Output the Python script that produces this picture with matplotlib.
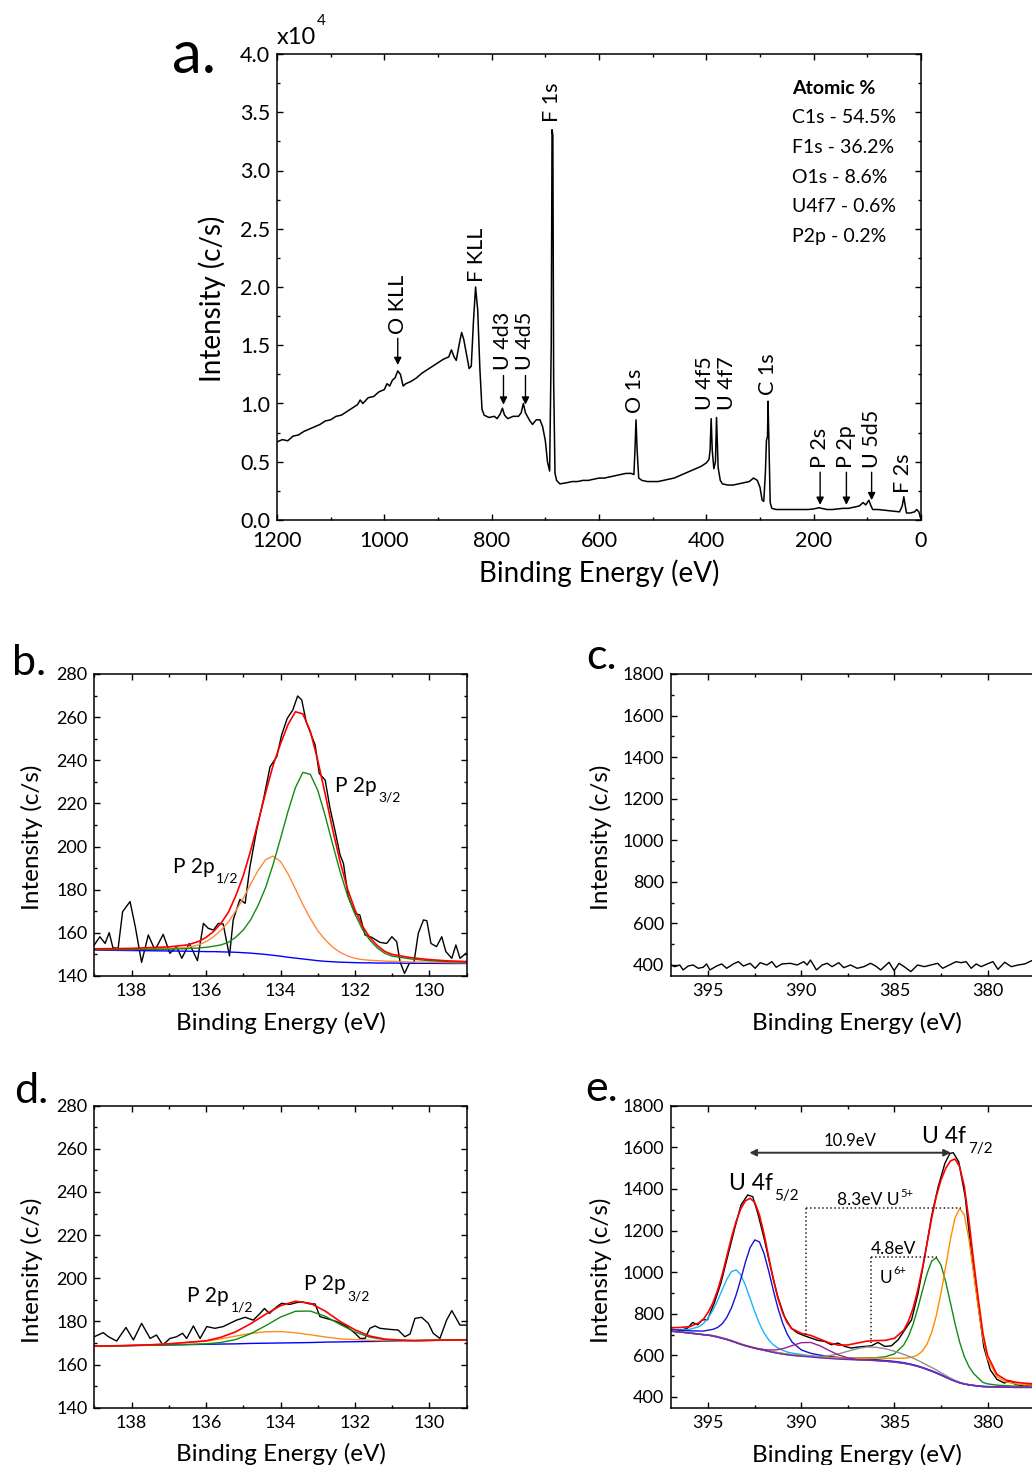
import matplotlib
matplotlib.use('Agg')
import matplotlib.pyplot as plt
from matplotlib.ticker import MultipleLocator, FormatStrFormatter

plt.rcParams['font.family'] = ['Lato', 'DejaVu Sans']
plt.rcParams['axes.linewidth'] = 1.1

# ---------------- data ----------------
# a. survey spectrum (binding energy eV, intensity x10^4 c/s)
survey_E = [1200, 1190, 1180, 1170, 1160, 1150, 1140, 1130, 1120, 1110, 1100, 1090, 1080, 1070,
            1060, 1050, 1045, 1040, 1030, 1020, 1010, 1000, 995, 990, 985, 980, 975, 970, 965,
            960, 950, 940, 930, 920, 910, 900, 890, 880, 875, 870, 866, 860, 856, 852, 848, 842,
            838, 834, 830, 826, 822, 818, 814, 805, 795, 790, 784, 780, 776, 770, 760, 750, 745,
            741, 737, 730, 724, 717, 710, 705, 700, 696, 692, 689, 687.5, 686, 684.5, 682, 679, 673,
            660, 650, 640, 630, 620, 610, 600, 590, 580, 570, 560, 550, 540, 535, 533, 531, 529,
            526, 520, 510, 500, 490, 480, 470, 460, 450, 440, 430, 420, 410, 400, 395, 393, 391,
            389, 386, 383, 381, 378, 374, 370, 360, 350, 340, 330, 320, 312, 305, 300, 296, 293,
            290, 288, 286, 285, 283, 281, 278, 270, 260, 250, 240, 230, 220, 210, 200, 190, 185,
            175, 165, 155, 145, 135, 125, 115, 108, 103, 97, 94, 90, 80, 70, 60, 50, 40, 35, 32,
            30, 27, 20, 12, 8, 4, 1, 0]
survey_I = [0.67, 0.69, 0.68, 0.72, 0.73, 0.76, 0.78, 0.80, 0.82, 0.85, 0.86, 0.89, 0.90, 0.93,
            0.96, 0.99, 1.03, 1.00, 1.05, 1.06, 1.10, 1.12, 1.17, 1.15, 1.20, 1.22, 1.28, 1.25, 1.15,
            1.17, 1.19, 1.22, 1.26, 1.29, 1.32, 1.35, 1.38, 1.40, 1.46, 1.40, 1.37, 1.52, 1.61, 1.55, 1.45, 1.30,
            1.32, 1.70, 2.00, 1.80, 1.30, 0.95, 0.90, 0.88, 0.89, 0.87, 0.91, 0.96, 0.90, 0.87, 0.89, 0.89, 0.92,
            1.00, 0.92, 0.86, 0.82, 0.86, 0.86, 0.80, 0.68, 0.50, 0.42, 1.50, 3.35, 3.30, 1.20, 0.40, 0.34, 0.31,
            0.32, 0.33, 0.33, 0.34, 0.34, 0.35, 0.36, 0.36, 0.37, 0.38, 0.39, 0.40, 0.40, 0.39, 0.60, 0.86, 0.60,
            0.36, 0.34, 0.33, 0.33, 0.33, 0.34, 0.35, 0.36, 0.38, 0.40, 0.42, 0.44, 0.46, 0.49, 0.52, 0.60, 0.87,
            0.60, 0.44, 0.50, 0.88, 0.45, 0.34, 0.31, 0.30, 0.30, 0.31, 0.32, 0.33, 0.36, 0.34, 0.28, 0.17, 0.16,
            0.40, 0.68, 0.72, 1.02, 0.60, 0.15, 0.10, 0.09, 0.09, 0.09, 0.09, 0.09, 0.09, 0.09, 0.095, 0.105, 0.10,
            0.09, 0.09, 0.095, 0.10, 0.10, 0.11, 0.12, 0.15, 0.13, 0.17, 0.13, 0.09, 0.09, 0.085, 0.08, 0.075, 0.07, 0.12, 0.20,
            0.14, 0.06, 0.06, 0.07, 0.09, 0.07, 0.02, 0.01]

peak_names = ['O KLL', 'F KLL', 'F 1s', 'U 4d3', 'U 4d5', 'O 1s', 'U 4f5', 'U 4f7', 'C 1s',
              'P 2s', 'P 2p', 'U 5d5', 'F 2s']
peak_text_E = [975, 827, 687, 778, 737, 532, 402, 361, 285, 188, 139, 92, 33]
peak_text_I = [1.60, 2.04, 3.42, 1.29, 1.29, 0.92, 0.94, 0.94, 1.07, 0.45, 0.45, 0.45, 0.23]
arrow_E = [975, 778, 737, 188, 139, 92]
arrow_from = [1.56, 1.24, 1.24, 0.41, 0.41, 0.41]
arrow_to = [1.33, 0.99, 0.99, 0.13, 0.13, 0.17]
atomic_lines = ['C1s - 54.5%', 'F1s - 36.2%', 'O1s - 8.6%', 'U4f7 - 0.6%', 'P2p - 0.2%']

# b. P 2p before
b_E_raw = [139.0, 138.85, 138.71, 138.6, 138.5, 138.36, 138.24, 138.04, 137.9, 137.73, 137.55, 137.37,
           137.15, 136.97, 136.79, 136.65, 136.45, 136.23, 136.07, 135.94, 135.8, 135.67, 135.54, 135.37,
           135.27, 135.09, 134.95, 134.82, 134.64, 134.46, 134.28, 134.1, 133.97, 133.82, 133.67, 133.54,
           133.43, 133.31, 133.19, 133.07, 132.96, 132.8, 132.67, 132.54, 132.4, 132.31, 132.18, 132.0,
           131.87, 131.73, 131.55, 131.33, 131.15, 131.01, 130.88, 130.79, 130.67, 130.54, 130.42, 130.3,
           130.16, 130.07, 129.96, 129.81, 129.67, 129.56, 129.4, 129.29, 129.18, 129.02]
b_I_raw = [154.4, 158.2, 155.1, 160.1, 153.1, 152.8, 169.8, 174.5, 162.9, 146.3, 159.0, 152.0, 159.3,
           150.5, 153.6, 148.2, 155.1, 147.1, 164.4, 162.1, 161.3, 164.4, 164.1, 149.3, 166.0, 175.5,
           173.7, 190.7, 207.7, 221.6, 237.0, 241.7, 251.7, 259.4, 263.3, 269.8, 268.0, 257.9, 252.5,
           247.1, 233.9, 230.8, 217.7, 207.7, 196.1, 192.2, 176.8, 169.0, 168.3, 159.0, 157.9, 155.6,
           155.1, 158.2, 155.9, 146.6, 141.2, 145.9, 145.9, 159.8, 166.0, 165.6, 155.1, 153.6, 158.2,
           151.3, 148.2, 154.4, 148.2, 150.5]
b_E_fit = [139, 138, 137, 136.5, 136.2, 136.0, 135.8, 135.6, 135.4, 135.2, 135.0, 134.8, 134.6, 134.4,
           134.2, 134.0, 133.8, 133.6, 133.4, 133.2, 133.0, 132.8, 132.6, 132.4, 132.2, 132.0, 131.8,
           131.6, 131.4, 131.2, 131.0, 130.5, 130.0, 129.5, 129.0]
b_bg = [152.0, 151.8, 151.6, 151.5, 151.4, 151.3, 151.3, 151.2, 151.1, 151.0, 150.8, 150.6, 150.3, 150.0,
        149.6, 149.2, 148.7, 148.3, 147.9, 147.5, 147.1, 146.8, 146.6, 146.4, 146.3, 146.2, 146.1, 146.1,
        146.0, 146.0, 146.0, 145.9, 145.9, 145.8, 145.8]
b_p12 = [152.3, 152.3, 152.7, 153.2, 154.4, 155.9, 158.1, 161.2, 165.0, 170.2, 176.0, 182.7, 189.0, 193.9,
         195.6, 193.1, 187.4, 180.4, 173.1, 166.7, 161.0, 156.8, 153.4, 151.0, 149.3, 148.2, 147.6, 147.3,
         147.1, 146.9, 146.8, 146.5, 146.4, 146.2, 146.1]
b_p32 = [152.3, 152.3, 152.4, 152.7, 153.0, 153.3, 153.8, 154.4, 155.6, 158.0, 161.3, 166.1, 172.8, 181.0,
         191.6, 203.7, 216.2, 227.3, 234.4, 233.5, 226.1, 214.3, 201.1, 188.4, 177.3, 168.7, 161.6, 156.6,
         153.0, 150.5, 149.2, 147.9, 147.1, 146.6, 146.4]
b_env = [152.6, 152.8, 153.5, 154.4, 156.0, 157.9, 160.6, 164.4, 169.5, 177.2, 186.5, 198.2, 211.5, 224.9,
         237.6, 247.6, 256.5, 262.5, 261.5, 253.5, 240.0, 224.3, 207.9, 193.0, 180.3, 170.7, 163.1, 157.8,
         154.1, 151.4, 150.0, 148.5, 147.6, 147.0, 146.7]

# c. U 4f before
c_E = [397.0, 396.8, 396.53, 396.35, 396.08, 395.81, 395.54, 395.27, 395.09, 394.91, 394.55, 394.28,
       394.01, 393.65, 393.38, 393.11, 392.75, 392.48, 392.21, 391.85, 391.58, 391.35, 391.04, 390.59,
       390.23, 389.87, 389.69, 389.51, 389.19, 388.88, 388.61, 388.35, 387.99, 387.72, 387.36, 387.0,
       386.64, 386.28, 386.01, 385.74, 385.29, 385.02, 384.75, 384.48, 384.12, 383.76, 383.4, 383.04,
       382.68, 382.41, 382.05, 381.69, 381.42, 381.15, 380.88, 380.61, 380.34, 380.02, 379.71, 379.44,
       379.08, 378.72, 378.36, 378.0, 377.55, 377.2]
c_I = [400, 392, 400, 376, 395, 400, 384, 389, 405, 376, 395, 405, 384, 405, 416, 395, 408, 384, 411, 400,
       416, 389, 405, 408, 400, 416, 400, 424, 376, 400, 408, 392, 411, 387, 400, 384, 392, 408, 395, 376,
       413, 373, 408, 392, 368, 400, 392, 400, 408, 384, 400, 416, 411, 416, 384, 405, 392, 405, 416, 379,
       413, 392, 400, 405, 424, 430]

# d. P 2p after
d_E_raw = [139.0, 138.76, 138.62, 138.4, 138.15, 137.95, 137.73, 137.5, 137.33, 137.16, 136.97, 136.79,
           136.63, 136.52, 136.34, 136.16, 135.98, 135.76, 135.54, 135.36, 135.18, 134.95, 134.73, 134.55,
           134.43, 134.3, 134.1, 133.97, 133.75, 133.57, 133.43, 133.21, 133.07, 132.94, 132.67, 132.49,
           132.22, 132.0, 131.86, 131.73, 131.6, 131.46, 131.33, 131.06, 130.84, 130.66, 130.52, 130.39,
           130.21, 130.03, 129.9, 129.72, 129.54, 129.4, 129.18, 129.02]
d_I_raw = [172.9, 174.8, 172.9, 170.9, 177.2, 171.4, 179.1, 172.1, 173.7, 169.1, 172.1, 172.9, 174.5,
           172.1, 177.9, 172.1, 177.6, 176.8, 177.6, 179.1, 180.6, 181.9, 180.6, 183.7, 186.0, 183.7,
           186.8, 188.4, 187.9, 188.7, 189.1, 188.1, 188.1, 182.2, 180.9, 179.9, 177.6, 174.5, 172.1,
           172.1, 176.8, 177.9, 176.8, 176.3, 176.0, 172.9, 174.2, 181.4, 181.9, 179.1, 174.5, 172.1,
           180.6, 185.0, 178.3, 178.3]
d_E_fit = [139, 138.5, 138, 137.5, 137, 136.5, 136, 135.6, 135.2, 134.8, 134.4, 134.0, 133.6, 133.2,
           132.8, 132.4, 132.0, 131.6, 131.2, 130.8, 130.4, 130, 129.5, 129]
d_bg = [168.5, 168.65, 168.8, 168.95, 169.1, 169.25, 169.4, 169.5, 169.6, 169.8, 169.9, 170.0, 170.1,
        170.2, 170.4, 170.5, 170.6, 170.7, 170.8, 171.0, 171.1, 171.2, 171.35, 171.5]
d_p12 = [168.5, 168.65, 168.9, 169.15, 169.6, 170.25, 170.8, 171.9, 173.2, 174.45, 175.2, 175.3, 174.75,
         173.8, 172.8, 171.9, 171.6, 171.2, 171.05, 171.1, 171.1, 171.2, 171.35, 171.5]
d_p32 = [168.5, 168.65, 168.8, 168.95, 169.1, 169.3, 169.6, 170.25, 171.6, 174.3, 178.0, 182.0, 184.7,
         184.8, 182.4, 178.6, 175.1, 172.7, 171.55, 171.25, 171.1, 171.2, 171.35, 171.5]
d_env = [168.5, 168.65, 168.9, 169.15, 169.6, 170.3, 171.0, 172.65, 175.2, 178.95, 183.3, 187.3, 189.35,
         188.4, 184.8, 180.0, 176.1, 173.2, 171.8, 171.35, 171.1, 171.2, 171.35, 171.5]

# e. U 4f after
e_E_raw = [397.01, 396.47, 396.11, 395.84, 395.57, 395.31, 395.04, 394.68, 394.32, 393.96, 393.6, 393.24,
           392.88, 392.61, 392.34, 391.98, 391.62, 391.27, 390.91, 390.55, 390.19, 389.83, 389.47, 389.11,
           388.75, 388.39, 388.03, 387.67, 387.32, 386.96, 386.6, 386.24, 385.88, 385.52, 385.16, 384.8,
           384.44, 384.08, 383.73, 383.37, 383.01, 382.65, 382.29, 382.02, 381.84, 381.55, 381.2, 380.85,
           380.5, 380.2, 379.85, 379.5, 379.1, 378.8, 378.5, 378.0, 377.7, 377.5, 377.2]
e_I_raw = [726, 720, 731, 758, 747, 771, 771, 851, 947, 1075, 1203, 1323, 1371, 1363, 1283, 1155, 1011,
           883, 787, 731, 707, 694, 683, 672, 667, 651, 659, 643, 635, 640, 643, 646, 662, 643, 646, 675,
           723, 771, 899, 1075, 1267, 1411, 1523, 1571, 1574, 1531, 1363, 1075, 840, 640, 530, 485, 467,
           478, 460, 452, 459, 451, 455]
e_E_fit = [397, 396.5, 396, 395.5, 395.25, 395, 394.75, 394.5, 394.25, 394,
           393.75, 393.5, 393.25, 393, 392.75, 392.5, 392.25, 392, 391.75, 391.5,
           391.25, 391, 390.75, 390.5, 390, 389.5, 389, 388.5, 388, 387.5,
           387, 386.5, 386, 385.5, 385, 384.5, 384.25, 384, 383.75, 383.5,
           383.25, 383, 382.75, 382.5, 382.25, 382, 381.75, 381.5, 381.25, 381,
           380.75, 380.5, 380.25, 380, 379.5, 379, 378.5, 378, 377.5, 377]
e_bg = [716, 712, 707, 702, 699, 697, 693, 688, 682, 676,
        669, 661, 653, 646, 640, 634, 629, 624, 619, 614,
        610, 606, 603, 600, 596, 592, 588, 585, 582, 580,
        578, 577, 575, 572, 568, 562, 558, 553, 547, 540,
        532, 524, 515, 505, 495, 485, 476, 468, 462, 458,
        455, 452, 450, 449, 448, 447, 446, 446, 446, 446]
e_u6_52 = [724, 723, 725, 738, 754, 781, 817, 863, 915, 966,
           1003, 1011, 987, 936, 873, 809, 753, 708, 674, 650,
           635, 624, 616, 611, 604, 598, 593, 589, 585, 583,
           580, 579, 577, 574, 569, 563, 559, 554, 548, 541,
           533, 525, 516, 506, 496, 486, 477, 469, 463, 459,
           456, 453, 451, 450, 449, 448, 447, 447, 447, 447]
e_u5_52 = [723, 721, 718, 717, 717, 721, 725, 734, 752, 783,
           829, 891, 967, 1049, 1118, 1155, 1145, 1089, 1004, 911,
           825, 754, 701, 664, 626, 610, 601, 595, 590, 586,
           583, 581, 579, 575, 571, 565, 560, 555, 549, 542,
           534, 526, 517, 507, 497, 487, 477, 469, 463, 459,
           456, 453, 451, 450, 449, 448, 447, 447, 447, 447]
e_sat52 = [716, 712, 707, 702, 699, 697, 693, 688, 682, 676,
           669, 661, 653, 646, 640, 635, 631, 628, 626, 626,
           628, 632, 639, 647, 661, 662, 646, 623, 602, 588,
           580, 578, 575, 572, 568, 562, 558, 553, 547, 540,
           532, 524, 515, 505, 495, 485, 476, 468, 462, 458,
           455, 452, 450, 449, 448, 447, 446, 446, 446, 446]
e_sat72 = [716, 712, 707, 702, 699, 697, 693, 688, 682, 676,
           669, 661, 653, 646, 640, 634, 629, 624, 619, 614,
           610, 606, 603, 600, 597, 595, 594, 599, 607, 620,
           632, 640, 639, 632, 620, 605, 596, 587, 576, 565,
           553, 542, 530, 517, 504, 491, 480, 471, 464, 459,
           455, 452, 450, 449, 448, 447, 446, 446, 446, 446]
e_u6_72 = [717, 713, 708, 703, 700, 698, 695, 690, 684, 678,
           671, 663, 655, 648, 642, 636, 631, 626, 621, 617,
           613, 609, 606, 603, 599, 596, 592, 590, 588, 587,
           587, 588, 589, 593, 607, 650, 691, 749, 825, 910,
           992, 1053, 1070, 1034, 955, 855, 754, 664, 595, 546,
           513, 491, 470, 463, 457, 454, 452, 451, 450, 450]
e_u5_72 = [717, 713, 708, 703, 700, 698, 695, 690, 684, 678,
           671, 663, 655, 648, 642, 636, 631, 626, 621, 616,
           613, 609, 606, 603, 599, 596, 592, 590, 588, 587,
           586, 586, 587, 586, 586, 586, 589, 593, 602, 621,
           654, 710, 792, 899, 1026, 1155, 1260, 1306, 1276, 1158,
           995, 832, 685, 584, 498, 472, 463, 459, 457, 455]
e_env = [733, 734, 738, 756, 775, 808, 852, 912, 988, 1077,
         1167, 1245, 1305, 1343, 1355, 1335, 1275, 1182, 1071, 963,
         873, 803, 756, 728, 706, 696, 678, 660, 649, 650,
         659, 668, 671, 672, 682, 721, 764, 826, 912, 1019,
         1138, 1260, 1365, 1443, 1498, 1534, 1544, 1507, 1413, 1249,
         1055, 873, 707, 600, 509, 481, 471, 466, 463, 460]

# e. guide lines: spin-orbit arrow and satellite separations
so_arrow_E = [392.79, 381.97]
so_arrow_I = 1574
sat5_line_E = [389.75, 381.43]
sat5_line_I = [1306, 699]
sat6_line_E = [386.25, 382.74]
sat6_line_I = [1072, 659]

# ---------------- layout ----------------
W, H = 1032, 1465
fig = plt.figure(figsize=(W / 100, H / 100), dpi=100)


def px_axes(l, t, r, b):
    return fig.add_axes([l / W, 1 - b / H, (r - l) / W, (b - t) / H])


def style(ax, xmaj, xmin, ymaj, ymin, fs, xpad=5, ypad=5):
    ax.xaxis.set_major_locator(MultipleLocator(xmaj))
    ax.xaxis.set_minor_locator(MultipleLocator(xmin))
    ax.yaxis.set_major_locator(MultipleLocator(ymaj))
    ax.yaxis.set_minor_locator(MultipleLocator(ymin))
    ax.tick_params(which='both', direction='in', top=True, right=True, width=1.0, labelsize=fs)
    ax.tick_params(axis='x', which='both', pad=xpad)
    ax.tick_params(axis='y', which='both', pad=ypad)
    ax.tick_params(which='major', length=4)
    ax.tick_params(which='minor', length=2.5)


def sub_text(ax, x, y, main, small, fs, sfs, sup=False, color='k'):
    t = ax.text(x, y, main, fontsize=fs, ha='left', va='baseline', color=color)
    if sup:
        ax.annotate(small, xy=(1, 1), xycoords=t, xytext=(0.5, -1), textcoords='offset points',
                    fontsize=sfs, ha='left', va='center', color=color)
    else:
        ax.annotate(small, xy=(1, 0), xycoords=t, xytext=(1, -1.5), textcoords='offset points',
                    fontsize=sfs, ha='left', va='center', color=color)
    return t


ax_a = px_axes(277, 54, 921, 520)
ax_b = px_axes(94.3, 674, 466.7, 976)
ax_c = px_axes(671, 674, 1043.4, 976)
ax_d = px_axes(94.3, 1105.7, 466.7, 1407.7)
ax_e = px_axes(671, 1105.7, 1043.4, 1408)

lw = 1.0
RED, GREEN, ORANGE, BLUE = '#ff0000', '#138a13', '#ff8a3a', '#0000ff'

# ---- a ----
ax_a.plot(survey_E, survey_I, color='k', lw=1.1)
ax_a.set_xlim(1200, 0)
ax_a.set_ylim(0, 4.0)
style(ax_a, 200, 100, 0.5, 0.25, 15.5, xpad=8, ypad=5)
ax_a.yaxis.set_major_formatter(FormatStrFormatter('%.1f'))
ax_a.set_xlabel('Binding Energy (eV)', fontsize=20, labelpad=6)
ax_a.set_ylabel('Intensity (c/s)', fontsize=20)
ax_a.yaxis.set_label_coords(-0.079, 0.474)
for name, xe, yi in zip(peak_names, peak_text_E, peak_text_I):
    ax_a.text(xe, yi, name, rotation=90, ha='center', va='bottom', fontsize=15.5)
for xe, y0, y1 in zip(arrow_E, arrow_from, arrow_to):
    ax_a.annotate('', xy=(xe, y1), xytext=(xe, y0),
                  arrowprops=dict(arrowstyle='-|>', color='k', lw=1.0, mutation_scale=11,
                                  shrinkA=0, shrinkB=0))
ax_a.text(0.7997, 0.927, 'Atomic %', transform=ax_a.transAxes, fontsize=14, fontweight='bold',
          va='center', ha='left')
for i, line in enumerate(atomic_lines):
    ax_a.text(0.7997, 0.863 - i * 0.0635, line, transform=ax_a.transAxes, fontsize=14,
              va='center', ha='left')
t10 = fig.text(277 / W, 1 - 44 / H, 'x10', fontsize=17, va='baseline', ha='left')
ax_a.annotate('4', xy=(1, 1), xycoords=t10, xytext=(0.5, 4), textcoords='offset points',
              fontsize=11, va='center', ha='left', annotation_clip=False)

# ---- b ----
ax_b.plot(b_E_raw, b_I_raw, color='k', lw=lw)
ax_b.plot(b_E_fit, b_bg, color=BLUE, lw=lw)
ax_b.plot(b_E_fit, b_p12, color=ORANGE, lw=lw)
ax_b.plot(b_E_fit, b_p32, color=GREEN, lw=lw)
ax_b.plot(b_E_fit, b_env, color=RED, lw=1.2)
ax_b.set_xlim(139, 129)
ax_b.set_ylim(140, 280)
style(ax_b, 2, 1, 20, 10, 13)
sub_text(ax_b, 132.54, 225.4, 'P 2p', '3/2', 15, 10)
sub_text(ax_b, 136.88, 187.9, 'P 2p', '1/2', 15, 10)

# ---- c ----
ax_c.plot(c_E, c_I, color='k', lw=lw)
ax_c.set_xlim(397, 377)
ax_c.set_ylim(347, 1800)
style(ax_c, 5, 2.5, 200, 100, 13)

# ---- d ----
ax_d.plot(d_E_raw, d_I_raw, color='k', lw=lw)
ax_d.plot(d_E_fit, d_bg, color=BLUE, lw=lw)
ax_d.plot(d_E_fit, d_p12, color='#ff8c1a', lw=lw)
ax_d.plot(d_E_fit, d_p32, color=GREEN, lw=lw)
ax_d.plot(d_E_fit, d_env, color=RED, lw=1.2)
ax_d.set_xlim(139, 129)
ax_d.set_ylim(140, 280)
style(ax_d, 2, 1, 20, 10, 13)
sub_text(ax_d, 136.5, 189.1, 'P 2p', '1/2', 15, 10)
sub_text(ax_d, 133.37, 194.6, 'P 2p', '3/2', 15, 10)

# ---- e ----
ax_e.plot(e_E_raw, e_I_raw, color='k', lw=lw)
ax_e.plot(e_E_fit, e_u6_52, color='#1fb2ff', lw=lw)
ax_e.plot(e_E_fit, e_u5_52, color='#1414d0', lw=lw)
ax_e.plot(e_E_fit, e_u6_72, color=GREEN, lw=lw)
ax_e.plot(e_E_fit, e_u5_72, color='#ff8c00', lw=lw)
ax_e.plot(e_E_fit, e_sat72, color='#909090', lw=lw)
ax_e.plot(e_E_fit, e_sat52, color='#9a1f9a', lw=lw)
ax_e.plot(e_E_fit, e_bg, color='#6a2fc0', lw=lw)
ax_e.plot(e_E_fit, e_env, color=RED, lw=1.2)
ax_e.set_xlim(397, 377)
ax_e.set_ylim(347, 1800)
style(ax_e, 5, 2.5, 200, 100, 13)
ax_e.annotate('', xy=(so_arrow_E[1], so_arrow_I), xytext=(so_arrow_E[0], so_arrow_I),
              arrowprops=dict(arrowstyle='<|-|>', color='#333333', lw=1.4, mutation_scale=10,
                              shrinkA=0, shrinkB=0))
ax_e.text(sum(so_arrow_E) / 2, 1628, '10.9eV', fontsize=12, ha='center', va='center')
ax_e.plot(sat5_line_E, [sat5_line_I[0]] * 2, ls=':', color='#222222', lw=1.1)
ax_e.plot([sat5_line_E[0]] * 2, sat5_line_I, ls=':', color='#222222', lw=1.1)
ax_e.plot(sat6_line_E, [sat6_line_I[0]] * 2, ls=':', color='#222222', lw=1.1)
ax_e.plot([sat6_line_E[0]] * 2, sat6_line_I, ls=':', color='#222222', lw=1.1)
sub_text(ax_e, 383.5, 1620, 'U 4f', '7/2', 16.5, 11)
sub_text(ax_e, 393.9, 1394, 'U 4f', '5/2', 16.5, 11)
sub_text(ax_e, 388.08, 1322, '8.3eV U', '5+', 12.5, 8, sup=True)
ax_e.text(386.29, 1088, '4.8eV', fontsize=12.5, ha='left', va='baseline')
sub_text(ax_e, 385.79, 950, 'U', '6+', 12.5, 8, sup=True)

for ax in (ax_b, ax_c, ax_d, ax_e):
    ax.set_xlabel('Binding Energy (eV)', fontsize=17.5, labelpad=9)
    ax.set_ylabel('Intensity (c/s)', fontsize=17.5)
ax_b.yaxis.set_label_coords(-0.138, 0.459)
ax_c.yaxis.set_label_coords(-0.159, 0.459)
ax_d.yaxis.set_label_coords(-0.138, 0.456)
ax_e.yaxis.set_label_coords(-0.159, 0.456)

# panel letters
fig.text(172 / W, 1 - 73 / H, 'a.', fontsize=43, va='baseline', ha='left')
fig.text(12 / W, 1 - 675 / H, 'b.', fontsize=31, va='baseline', ha='left')
fig.text(586 / W, 1 - 669 / H, 'c.', fontsize=31, va='baseline', ha='left')
fig.text(14 / W, 1 - 1103 / H, 'd.', fontsize=31, va='baseline', ha='left')
fig.text(585 / W, 1 - 1101 / H, 'e.', fontsize=31, va='baseline', ha='left')

fig.savefig('out.png', dpi=100)
